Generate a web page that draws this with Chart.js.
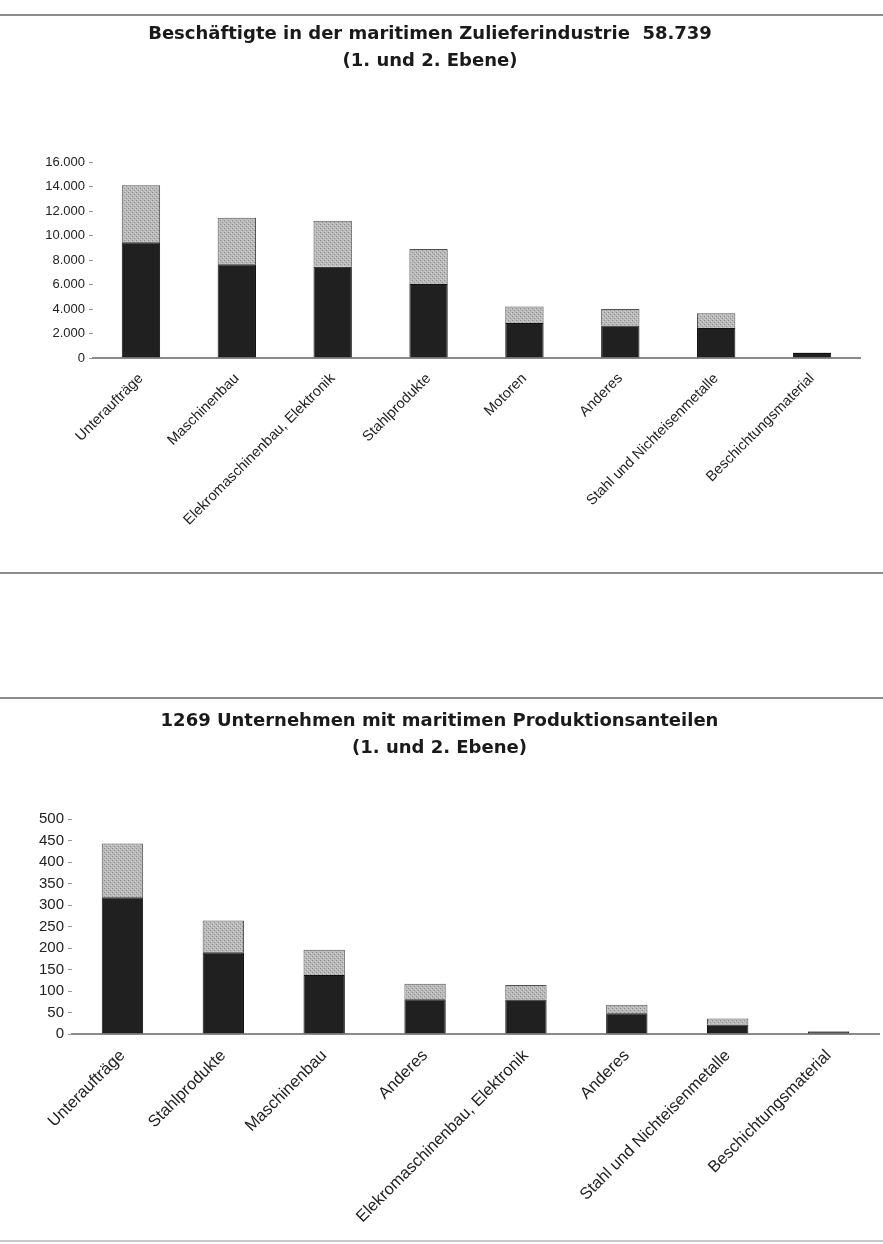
<!DOCTYPE html>
<html>
<head>
<meta charset="utf-8">
<script src="https://cdn.jsdelivr.net/npm/chart.js@4.4.1/dist/chart.umd.min.js"></script>
<style>
  body { margin: 0; background: #fff; width: 883px; height: 1244px; position: relative; overflow: hidden; }
  .rule { position: absolute; left: 0; width: 883px; height: 2px; background: #8c8c8c; }
  canvas { position: absolute; left: 0; }
</style>
</head>
<body>
<div class="rule" style="top:14px"></div>
<div class="rule" style="top:572px"></div>
<div class="rule" style="top:697px"></div>
<div class="rule" style="top:1240px; background:#c8c8c8"></div>
<canvas id="beschaeftigte" width="883" height="556" style="top:16px;width:883px;height:556px"></canvas>
<canvas id="unternehmen" width="883" height="540" style="top:700px;width:883px;height:540px"></canvas>
<script>
// Beschäftigte (oben)
const beschKategorien = ["Unteraufträge", "Maschinenbau", "Elekromaschinenbau, Elektronik", "Stahlprodukte", "Motoren", "Anderes", "Stahl und Nichteisenmetalle", "Beschichtungsmaterial"];
const beschEbene1 = [9450, 7650, 7450, 6050, 2850, 2650, 2450, 400];
const beschEbene2 = [4650, 3800, 3750, 2850, 1350, 1350, 1200, 50];
const beschTicks = [0, 2000, 4000, 6000, 8000, 10000, 12000, 14000, 16000];

// Unternehmen (unten)
const untKategorien = ["Unteraufträge", "Stahlprodukte", "Maschinenbau", "Anderes", "Elekromaschinenbau, Elektronik", "Anderes", "Stahl und Nichteisenmetalle", "Beschichtungsmaterial"];
const untEbene1 = [318, 190, 137, 81, 80, 48, 22, 6];
const untEbene2 = [125, 74, 59, 36, 34, 20, 14, 1];
const untTicks = [0, 50, 100, 150, 200, 250, 300, 350, 400, 450, 500];

const dunkel = "#202020";

// gepunktetes Grau wie im Ausdruck
function rasterGrau() {
  const c = document.createElement("canvas");
  c.width = 4;
  c.height = 4;
  const g = c.getContext("2d");
  g.fillStyle = "#bababa";
  g.fillRect(0, 0, 4, 4);
  g.fillStyle = "#909090";
  g.fillRect(0, 0, 1, 1);
  g.fillRect(2, 2, 1, 1);
  g.fillStyle = "#cfcfcf";
  g.fillRect(1, 3, 1, 1);
  g.fillRect(3, 1, 1, 1);
  return g.createPattern(c, "repeat");
}
const hell = rasterGrau();

function tausender(v) {
  return String(v).replace(/\B(?=(\d{3})+(?!\d))/g, ".");
}

function makeChart(id, cfg) {
  const ctx = document.getElementById(id).getContext("2d");
  return new Chart(ctx, {
    type: "bar",
    data: {
      labels: cfg.labels,
      datasets: [
        {
          label: "1. Ebene",
          data: cfg.ebene1,
          backgroundColor: dunkel,
          borderColor: "#111",
          borderWidth: 1,
          barPercentage: cfg.barPct,
          categoryPercentage: 1,
        },
        {
          label: "2. Ebene",
          data: cfg.ebene2,
          backgroundColor: hell,
          borderColor: "#555",
          borderWidth: 1,
          barPercentage: cfg.barPct,
          categoryPercentage: 1,
        },
      ],
    },
    options: {
      responsive: false,
      animation: false,
      layout: { padding: { left: 0, right: cfg.padRight, top: 0, bottom: 0 } },
      plugins: {
        legend: { display: false },
        tooltip: { enabled: false },
        title: {
          display: true,
          text: cfg.title,
          color: "#1a1a1a",
          font: { family: "'DejaVu Sans', sans-serif", size: 18, weight: "bold", lineHeight: 1.5 },
          padding: { top: cfg.titleTop, bottom: cfg.titleBottom },
        },
      },
      scales: {
        x: {
          stacked: true,
          grid: { display: false },
          border: { display: true, color: "#8a8a8a", width: 2 },
          ticks: {
            autoSkip: false,
            maxRotation: 45,
            minRotation: 45,
            padding: 4,
            color: "#222",
            font: { family: "'Liberation Sans', Arial, sans-serif", size: cfg.xFont },
          },
          afterFit: (s) => { s.height = cfg.xHeight; },
        },
        y: {
          stacked: true,
          min: 0,
          max: cfg.ticks[cfg.ticks.length - 1],
          afterBuildTicks: (s) => { s.ticks = cfg.ticks.map((v) => ({ value: v })); },
          grid: { display: true, drawOnChartArea: false, drawTicks: true, tickLength: 4, color: "#999" },
          border: { display: false },
          ticks: {
            padding: 4,
            color: "#222",
            font: { family: "'Liberation Sans', Arial, sans-serif", size: cfg.yFont },
            callback: cfg.fmt,
          },
          afterFit: (s) => { s.width = cfg.yWidth; },
        },
      },
    },
  });
}

makeChart("beschaeftigte", {
  labels: beschKategorien,
  ebene1: beschEbene1,
  ebene2: beschEbene2,
  ticks: beschTicks,
  title: ["Beschäftigte in der maritimen Zulieferindustrie  58.739", "(1. und 2. Ebene)"],
  titleTop: 5,
  titleBottom: 87,
  barPct: 0.4,
  padRight: 23,
  yWidth: 93,
  xHeight: 214,
  xFont: 14.5,
  yFont: 13,
  fmt: (v) => tausender(v),
});

makeChart("unternehmen", {
  labels: untKategorien,
  ebene1: untEbene1,
  ebene2: untEbene2,
  ticks: untTicks,
  title: ["1269 Unternehmen mit maritimen Produktionsanteilen", "(1. und 2. Ebene)"],
  titleTop: 8,
  titleBottom: 57,
  barPct: 0.41,
  padRight: 4,
  yWidth: 72,
  xHeight: 206,
  xFont: 16.5,
  yFont: 15,
  fmt: (v) => String(v),
});
</script>
</body>
</html>
